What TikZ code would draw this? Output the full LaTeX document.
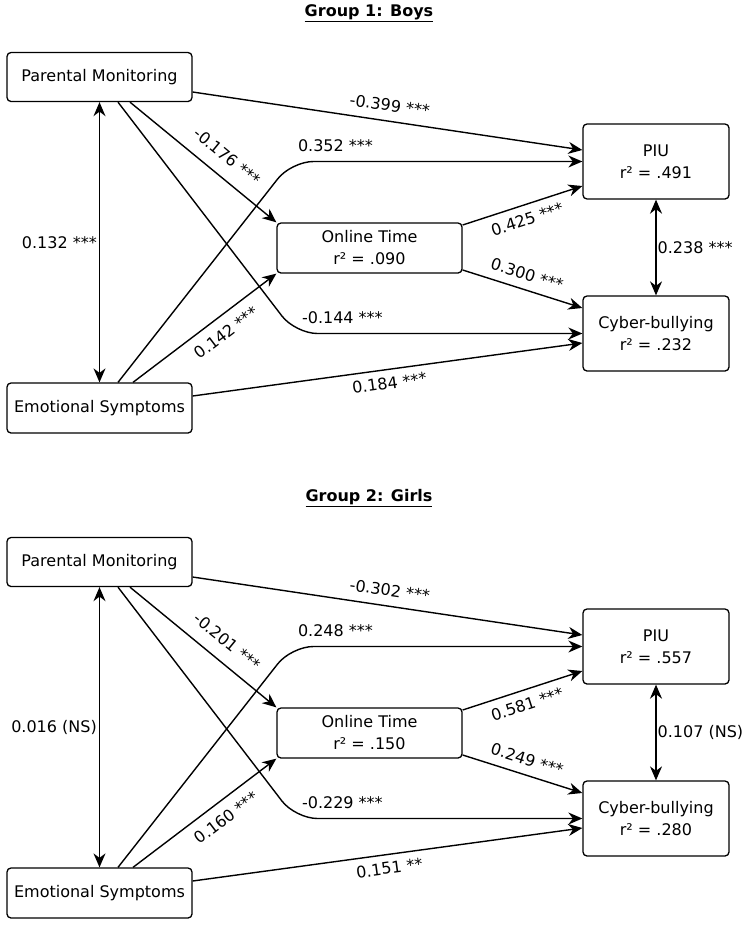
\documentclass[tikz,border=0pt]{standalone}
\usepackage{fontspec}
\setmainfont{DejaVu Sans}
\usetikzlibrary{arrows.meta}

\tikzset{
  box/.style={draw,rounded corners=4pt,line width=1.3pt,align=center,inner sep=0pt,
    minimum width=185pt,minimum height=49pt},
  bigbox/.style={box,minimum width=146pt,minimum height=75pt},
  arr/.style={line width=1.4pt,-{Stealth[length=14pt,width=12pt,inset=4.5pt]}},
  darr/.style={line width=1.4pt,{Stealth[length=14pt,width=12pt,inset=4.5pt]}-{Stealth[length=14pt,width=12pt,inset=4.5pt]}},
  lbl/.style={inner sep=2pt},
}

\begin{document}
\begin{tikzpicture}[x=1pt,y=-1pt,font=\fontsize{16}{22}\selectfont]
	\useasboundingbox (0,0) rectangle (751,927);

	% one block per group, the second one shifted down
	\foreach \n/\dy/\who/\rot/\rpiu/\rcb/\cpmes/\cpmpiu/\cpmot/\cpmcb/\cespiu/\cesot/\cescb/\cotpiu/\cotcb/\cpiucb in {
		1/0/Boys/.090/.491/.232/0.132 ***/-0.399 ***/-0.176 ***/-0.144 ***/0.352 ***/0.142 ***/0.184 ***/0.425 ***/0.300 ***/0.238 ***,
		2/485/Girls/.150/.557/.280/0.016 (NS)/-0.302 ***/-0.201 ***/-0.229 ***/0.248 ***/0.160 ***/0.151 **/0.581 ***/0.249 ***/0.107 (NS)} {
	\begin{scope}[yshift=-\dy pt]
		\node (ttl\n) at (369,13) {\underline{\textbf{Group \n: \who}}};

		\node[box] (pm\n) at (99.5,77) {Parental Monitoring};
		\node[box,minimum height=50pt] (es\n) at (99.5,408) {Emotional Symptoms};
		\node[box,minimum height=50pt] (ot\n) at (369.5,248) {Online Time\\r² = \rot};
		\node[bigbox] (piu\n) at (656,161.5) {PIU\\r² = \rpiu};
		\node[bigbox] (cb\n) at (656,333.5) {Cyber-bullying\\r² = \rcb};

		% correlations
		\draw[darr] (pm\n.south) -- node[lbl,left] {\cpmes} (es\n.north);
		\draw[darr] (piu\n.south) -- node[lbl,right,inner sep=1pt] {\cpiucb} (cb\n.north);

		% paths
		\draw[arr] ([yshift=-15pt]pm\n.east) -- node[lbl,sloped,above=7pt] {\cpmpiu} ([yshift=11.5pt]piu\n.west);
		\draw[arr] ([xshift=30.5pt]pm\n.south) -- node[lbl,sloped,above=11pt,pos=.58] {\cpmot} (ot\n.north west);
		\draw[arr,rounded corners=22pt] ([xshift=18.5pt]pm\n.south) -- ([xshift=-287pt]cb\n.west)
			node[lbl,anchor=south west,xshift=4pt,yshift=7pt] {\cpmcb} -- (cb\n.west);
		\draw[arr,rounded corners=22pt] ([xshift=18.5pt]es\n.north) -- ([xshift=-291pt]piu\n.west)
			node[lbl,anchor=south west,xshift=4pt,yshift=7pt] {\cespiu} -- (piu\n.west);
		\draw[arr] ([xshift=33.5pt]es\n.north) -- node[lbl,sloped,below=8pt,pos=.58] {\cesot} (ot\n.south west);
		\draw[arr] ([yshift=12pt]es\n.east) -- node[lbl,sloped,below=5pt] {\cescb} ([yshift=-9.5pt]cb\n.west);
		\draw[arr] ([yshift=23pt]ot\n.east) -- node[lbl,sloped,below=6pt] {\cotpiu} ([yshift=-24.5pt]piu\n.west);
		\draw[arr] ([yshift=-22pt]ot\n.east) -- node[lbl,sloped,above=6.5pt] {\cotcb} ([yshift=25.5pt]cb\n.west);
	\end{scope}
	}
\end{tikzpicture}
\end{document}
